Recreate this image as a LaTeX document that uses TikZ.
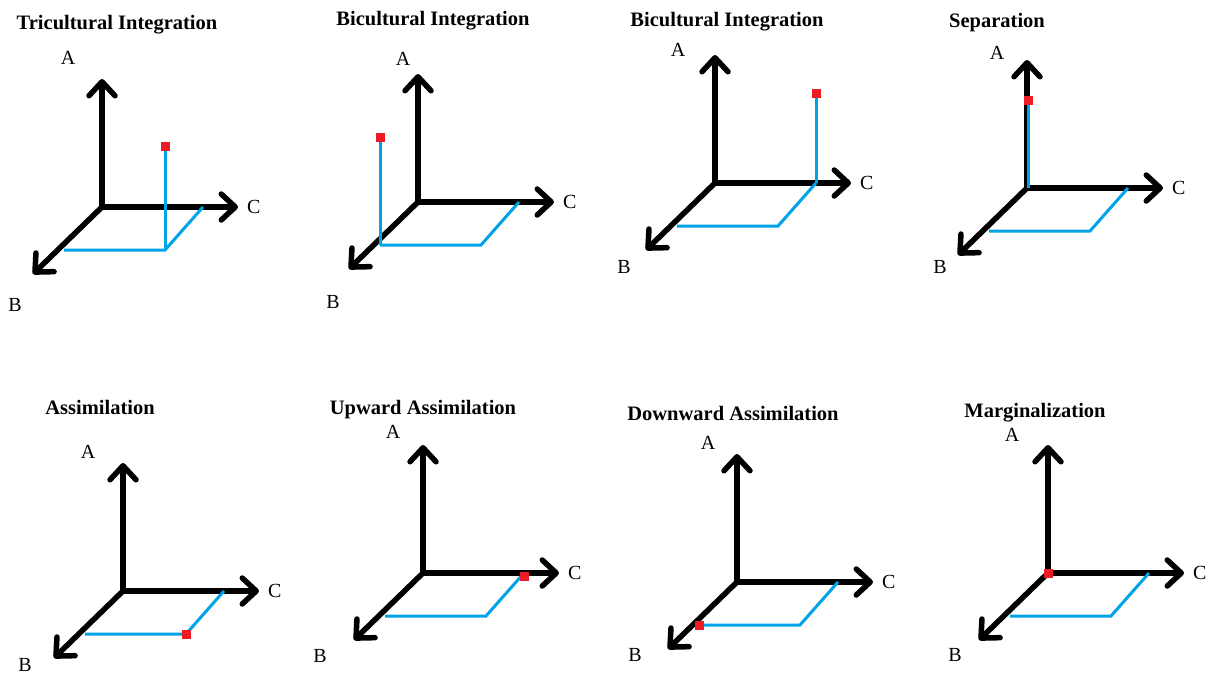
\documentclass[tikz,border=0pt]{standalone}
\usepackage{fontspec}
\setmainfont{Liberation Serif}
\usepackage{tikz}
\usetikzlibrary{arrows.meta, positioning}
\definecolor{projblue}{RGB}{0,162,232}
\definecolor{ptred}{RGB}{237,28,36}
\tikzstyle{axis} = [line width=5.5pt, line cap=rect, -{Straight Barb[length=14pt,width=26pt,round]}]
\tikzstyle{proj} = [projblue, line width=3pt]
\tikzstyle{pt} = [fill=ptred, minimum size=9pt, inner sep=0pt]
\tikzstyle{lbl} = [font=\fontsize{20}{24}\selectfont, inner sep=0pt]
\tikzstyle{ttl} = [font=\fontsize{20.5}{24}\selectfont\bfseries, anchor=base, inner sep=0pt]

\begin{document}
\begin{tikzpicture}[x=1pt, y=-1pt]
    \useasboundingbox (0,0) rectangle (1217,675);

    % Axes, labels, titles and floor projection of each panel
    \foreach \i/\ox/\oy/\ax/\ay/\bx/\by/\tx/\ty/\name in {
        1/102/207/68/58/15/305/117/29/Tricultural Integration,
        2/418/202/403/59/333/302/433/25/Bicultural Integration,
        3/715/183/678/50/624/267/727/26/Bicultural Integration,
        4/1027/188/997/53/940/267/997/27/Separation,
        5/123/591/88/452/25/665/100/414/Assimilation,
        6/423/573/393/432/320/656/423/414/Upward Assimilation,
        7/737/582/708/443/635/655/733/420/Downward Assimilation,
        8/1048/573/1012/435/955/655/1035/417/Marginalization}
    {
        \coordinate (O\i) at (\ox,\oy);
        \coordinate (A\i) at (\ox,\oy-128);
        \coordinate (B\i) at (\ox-69,\oy+67);
        \coordinate (C\i) at (\ox+136,\oy);
        \draw[axis] (O\i) -- (A\i);
        \draw[axis] (O\i) -- (B\i);
        \draw[axis] (O\i) -- (C\i);
        \node[lbl] (LA\i) at (\ax,\ay) {A};
        \node[lbl] (LB\i) at (\bx,\by) {B};
        \node[lbl, right=9pt of C\i] (LC\i) {C};
        \node[ttl] (T\i) at (\tx,\ty) {\name};

        \coordinate (Pb\i) at (\ox-38,\oy+43);
        \coordinate (Pbc\i) at (\ox+63,\oy+43);
        \coordinate (Pc\i) at (\ox+101,\oy);
        \draw[proj] (Pb\i) -- (Pbc\i) -- (Pc\i);
    }

    % Tricultural Integration
    \node[pt] (R1) at (Pbc1 |- 0,146) {};
    \draw[proj] (Pbc1) -- (R1);

    % Bicultural Integration
    \node[pt] (R2) at (Pb2 |- 0,137) {};
    \draw[proj] (Pb2) -- (R2);
    \node[pt] (R3) at (Pc3 |- 0,93) {};
    \draw[proj] (Pc3) -- (R3);

    % Separation
    \coordinate (S4) at (1028.5,188);
    \node[pt] (R4) at (1028.5,100) {};
    \draw[proj] (S4) -- (R4);

    % Assimilation
    \node[pt] (R5) at (Pbc5) {};
    \node[pt] (R6) at (524,576) {};
    \node[pt] (R7) at (Pb7) {};

    % Marginalization
    \node[pt] (R8) at (O8) {};
\end{tikzpicture}
\end{document}
